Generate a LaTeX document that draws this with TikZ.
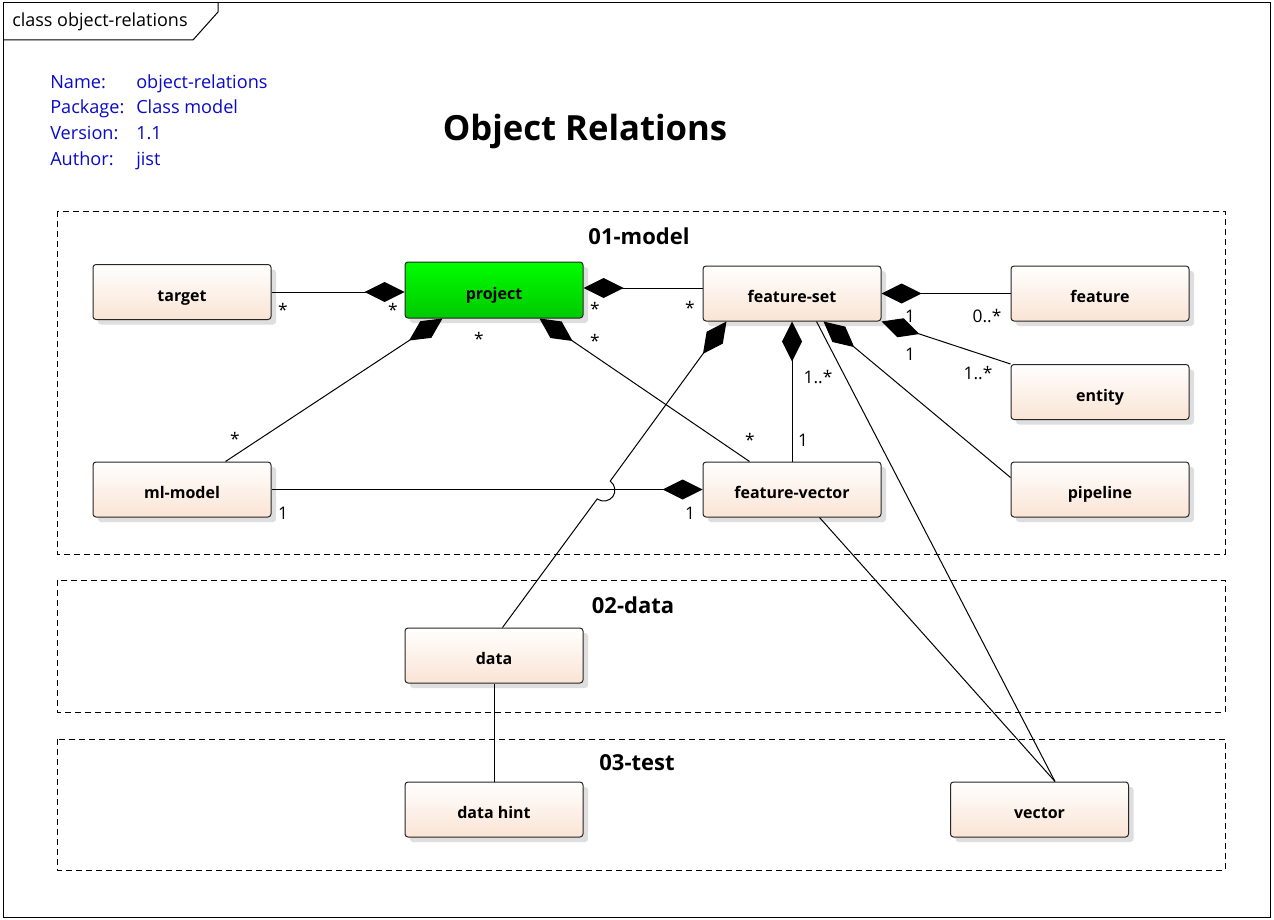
\documentclass[tikz,border=0pt]{standalone}
\usepackage{fontspec}
\setmainfont{Open Sans}
\usetikzlibrary{arrows.meta,calc,shadows}
\definecolor{peach}{RGB}{250,228,212}
\definecolor{metablue}{RGB}{10,10,200}
\definecolor{shadowgray}{RGB}{222,222,222}
\definecolor{greentop}{RGB}{0,255,0}
\definecolor{greenbot}{RGB}{0,200,0}
\begin{document}
\begin{tikzpicture}[x=0.75pt,y=-0.75pt,
  cls/.style={draw=black!85, line width=0.75pt, rounded corners=2.25pt,
    minimum width=133.5pt, minimum height=41.25pt, inner sep=0pt,
    text height=14pt, text depth=0pt,
    top color=white, bottom color=peach,
    font=\bfseries\fontsize{12}{14}\selectfont,
    general shadow={fill=shadowgray, shadow xshift=3.75pt, shadow yshift=-3.75pt}},
  greencls/.style={cls, top color=greentop, bottom color=greenbot},
  conn/.style={line width=0.75pt, draw=black},
  comp/.style={conn, {Diamond[length=30pt,width=15pt]}-},
  mult/.style={font=\fontsize{13}{15}\selectfont, inner sep=0pt},
  meta/.style={font=\fontsize{13.6}{16}\selectfont, text=metablue, inner sep=0pt, anchor=base west},
  pkg/.style={draw=black, line width=0.6pt, dash pattern=on 4.5pt off 3pt},
  pkglabel/.style={font=\bfseries\fontsize{16.5}{19}\selectfont, inner sep=0pt}
]
\useasboundingbox (0,0) rectangle (1274,920);
\fill[white] (0,0) rectangle (1274,920);

% frame
\draw[line width=0.75pt] (3,3) rectangle (1270,917);
\draw[line width=0.75pt] (3,40) -- (193,40) -- (218,12) -- (218,3);
\node[anchor=base west, inner sep=0pt, font=\fontsize{13.5}{15}\selectfont] (framelbl) at (12,27) {class object-relations};

% metadata
\node[meta] (k1) at (50,89) {Name:};
\node[meta] (k2) at (50,114) {Package:};
\node[meta] (k3) at (50,140) {Version:};
\node[meta] (k4) at (50,166) {Author:};
\node[meta] (v1) at (136,89) {object-relations};
\node[meta] (v2) at (136,114) {Class model};
\node[meta] (v3) at (136,140) {1.1};
\node[meta] (v4) at (136,166) {jist};

% title
\node[font=\bfseries\fontsize{26}{30}\selectfont, inner sep=0pt] (title) at (585,131) {Object Relations};

% packages
\draw[pkg] (57,211) rectangle (1225,554);
\draw[pkg] (57,580) rectangle (1225,712);
\draw[pkg] (57,739) rectangle (1225,870);
\node[pkglabel] (p1) at (639,236) {01-model};
\node[pkglabel] (p2) at (633,605) {02-data};
\node[pkglabel] (p3) at (637,763) {03-test};

% classes
\node[cls] (target) at (182,292) {target};
\node[greencls, minimum height=42pt] (project) at (494,290) {project};
\node[cls] (fset) at (792,293.5) {feature-set};
\node[cls] (feature) at (1100,293.5) {feature};
\node[cls] (entity) at (1100,392) {entity};
\node[cls] (mlm) at (182,489.5) {ml-model};
\node[cls] (fvec) at (792,489.5) {feature-vector};
\node[cls] (pipeline) at (1100,489.5) {pipeline};
\node[cls] (data) at (494,655.5) {data};
\node[cls] (dhint) at (494,809.5) {data hint};
\node[cls] (vector) at (1039.5,809.5) {vector};

% connectors
\draw[comp] (target.east -| project.west) -- (target.east);
\draw[comp] ($(project.east)+(0,-2)$) -- ($(fset.west)+(0,-5.5)$);
\draw[comp] ($(project.south west)+(38,0)$) -- ($(mlm.north east)+(-46,0)$);
\draw[comp] ($(project.south east)+(-44,0)$) -- ($(fvec.north west)+(47,0)$);
\draw[comp] (fset.east) -- (feature.west);
\draw[comp] (fset.south east) -- (entity.north west);
\draw[comp] (fset.south) -- (fvec.north);
\draw[comp] ($(fset.south west)+(121,0)$) -- ($(pipeline.west)+(0,-12)$);
\draw[conn] ($(fset.south west)+(114,0)$) -- ($(vector.north west)+(105,0)$);
\draw[conn] ($(fvec.south west)+(117,0)$) -- ($(vector.north west)+(105,0)$);
\draw[comp] (fvec.west) -- (mlm.east);
\draw[conn] (data.south) -- (dhint.north);
\coordinate (hopA) at (610.2,481.1);
\coordinate (hopM) at (612.9,496.5);
\coordinate (hopB) at (597.2,498.9);
\draw[comp] ($(fset.south west)+(24,0)$) -- (hopA)
  .. controls (615.1,484.7) and (616.5,491.6) .. (hopM)
  .. controls (609.3,501.4) and (602.1,502.5) .. (hopB)
  -- ($(data.north west)+(98,0)$);

% multiplicities
\node[mult] (m1) at (283,310) {*};
\node[mult] (m2) at (393,310) {*};
\node[mult] (m3) at (595,309) {*};
\node[mult] (m4) at (690,308) {*};
\node[mult] (m5) at (479,339) {*};
\node[mult] (m6) at (595,341) {*};
\node[mult] (m7) at (235,439) {*};
\node[mult] (m8) at (750,440) {*};
\node[mult] (m9) at (910,316) {1};
\node[mult] (m10) at (987,316) {0..*};
\node[mult] (m11) at (910,354) {1};
\node[mult] (m12) at (978,373) {1..*};
\node[mult] (m13) at (818,377) {1..*};
\node[mult] (m14) at (803,440) {1};
\node[mult] (m15) at (283,513) {1};
\node[mult] (m16) at (690,513) {1};
\end{tikzpicture}
\end{document}
